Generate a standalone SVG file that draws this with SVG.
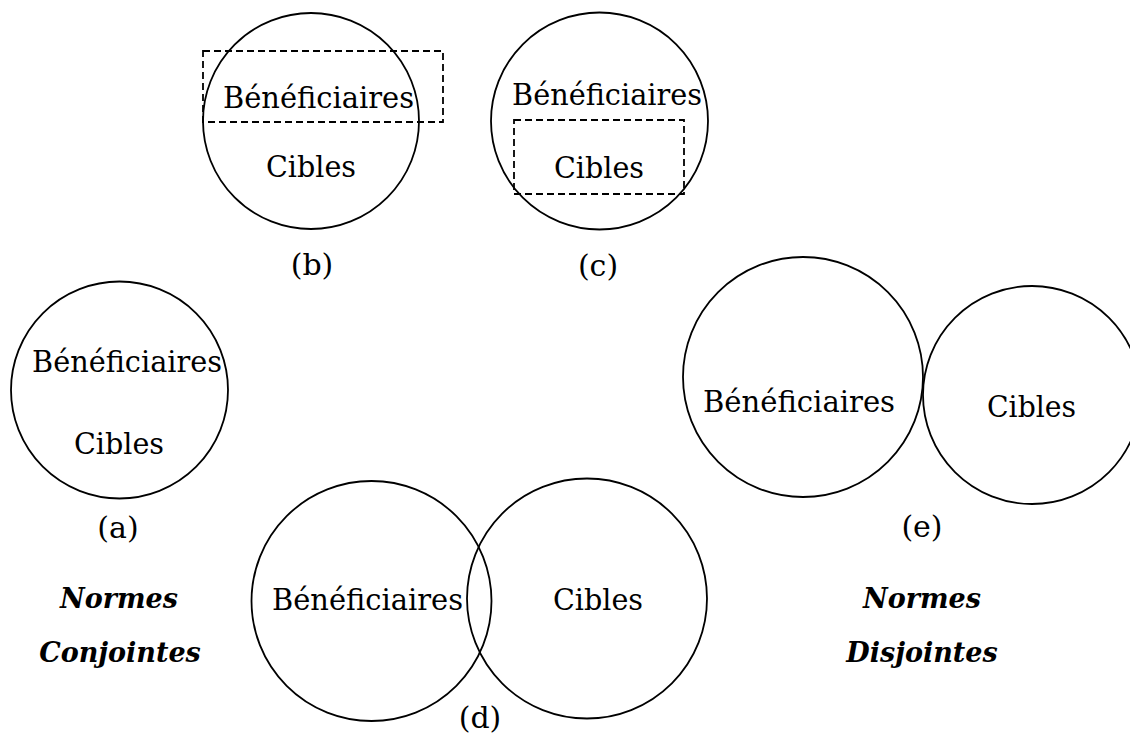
<svg xmlns="http://www.w3.org/2000/svg" width="1130" height="733" viewBox="0 0 1130 733">
<style>
  .c{fill:none;stroke:#000;stroke-width:1.8}
  .d{fill:none;stroke:#000;stroke-width:1.8;stroke-dasharray:7,4}
  .t{font-family:"DejaVu Serif","Liberation Serif",serif;font-size:30px;fill:#000;text-anchor:middle}
  .n{font-family:"DejaVu Serif","Liberation Serif",serif;font-size:27px;font-weight:bold;font-style:italic;fill:#000;text-anchor:middle}
</style>
<rect width="1130" height="733" fill="#fff"/>
<g id="node-a">
  <circle class="c" cx="119.5" cy="390" r="108.5"/>
  <text class="t" x="127" y="372" textLength="190" lengthAdjust="spacingAndGlyphs">Bénéficiaires</text>
  <text class="t" x="119" y="454" textLength="90" lengthAdjust="spacingAndGlyphs">Cibles</text>
  <text class="t" x="118" y="538">(a)</text>
</g>
<g id="node-b">
  <circle class="c" cx="311" cy="121" r="108"/>
  <rect class="d" x="203" y="51" width="240" height="71"/>
  <text class="t" x="318.5" y="108" textLength="191" lengthAdjust="spacingAndGlyphs">Bénéficiaires</text>
  <text class="t" x="311" y="177" textLength="90" lengthAdjust="spacingAndGlyphs">Cibles</text>
  <text class="t" x="312" y="275">(b)</text>
</g>
<g id="node-c">
  <circle class="c" cx="599.5" cy="121" r="108.5"/>
  <rect class="d" x="514" y="120" width="170" height="74"/>
  <text class="t" x="607" y="105" textLength="190" lengthAdjust="spacingAndGlyphs">Bénéficiaires</text>
  <text class="t" x="599" y="178" textLength="90" lengthAdjust="spacingAndGlyphs">Cibles</text>
  <text class="t" x="598" y="276">(c)</text>
</g>
<g id="node-d">
  <circle class="c" cx="371.5" cy="601" r="120"/>
  <circle class="c" cx="587" cy="598.5" r="120"/>
  <text class="t" x="367.5" y="610" textLength="191" lengthAdjust="spacingAndGlyphs">Bénéficiaires</text>
  <text class="t" x="598" y="610" textLength="90" lengthAdjust="spacingAndGlyphs">Cibles</text>
  <text class="t" x="480" y="728">(d)</text>
</g>
<g id="node-e">
  <circle class="c" cx="803" cy="377" r="120"/>
  <circle class="c" cx="1032" cy="395" r="109"/>
  <text class="t" x="799" y="412" textLength="192" lengthAdjust="spacingAndGlyphs">Bénéficiaires</text>
  <text class="t" x="1031.5" y="417" textLength="89" lengthAdjust="spacingAndGlyphs">Cibles</text>
  <text class="t" x="922" y="537">(e)</text>
</g>
<g id="label-conjointes">
  <text class="n" x="119" y="608">Normes</text>
  <text class="n" x="120" y="662">Conjointes</text>
</g>
<g id="label-disjointes">
  <text class="n" x="922" y="608">Normes</text>
  <text class="n" x="922" y="662">Disjointes</text>
</g>
<g id="connectors"></g>
</svg>
